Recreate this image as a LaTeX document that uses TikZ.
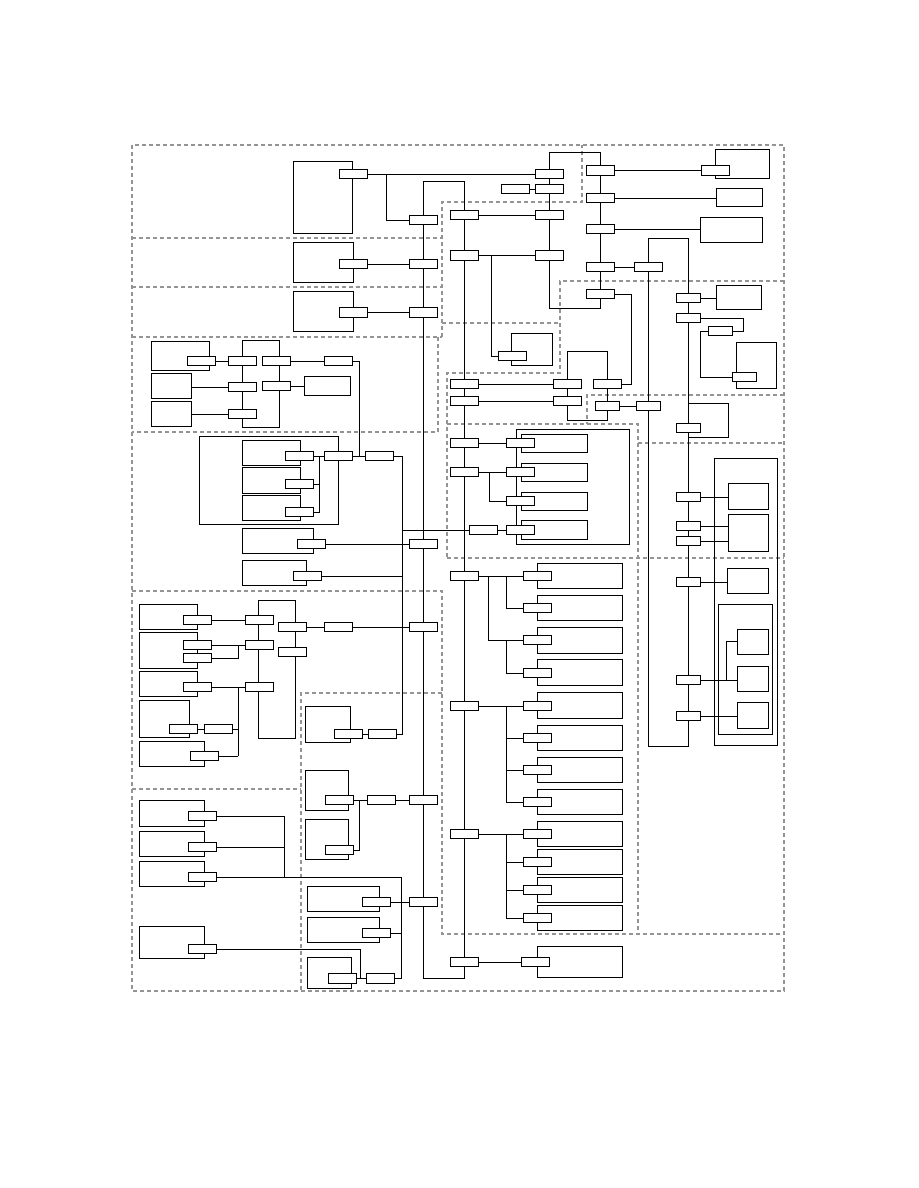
\documentclass[tikz,border=0pt]{standalone}
\usepackage{tikz}
\usetikzlibrary{fit}

\begin{document}
\begin{tikzpicture}[
    x=1pt, y=-1pt,
    line width=0.95pt,
    zone/.style={draw=black!42, line width=1.1pt, dash pattern=on 4pt off 3pt},
    box/.style={draw, inner sep=0pt, outer sep=0pt, fit={#1}},
    port/.style={draw, fill=white, inner sep=0pt, outer sep=0pt,
                 minimum width=28pt, minimum height=9.5pt},
    sport/.style={port, minimum width=24pt}
]
\useasboundingbox (0,0) rectangle (918,1188);

\draw[zone] (132,145) rectangle (784,991);
\draw[zone] (132,238) -- (442,238);
\draw[zone] (132,287) -- (442,287);
\draw[zone] (132,337) -- (442,337);
\draw[zone] (438,337) -- (438,432) -- (132,432);
\draw[zone] (442,337) -- (442,202) -- (582,202) -- (582,145);
\draw[zone] (442,323) -- (560,323);
\draw[zone] (784,281) -- (560,281) -- (560,373) -- (447,373) -- (447,558);
\draw[zone] (784,395) -- (587,395) -- (587,424);
\draw[zone] (447,424) -- (638,424) -- (638,934);
\draw[zone] (638,443) -- (784,443);
\draw[zone] (447,558) -- (784,558);
\draw[zone] (132,591) -- (442,591) -- (442,934) -- (784,934);
\draw[zone] (442,693) -- (301,693) -- (301,991);
\draw[zone] (132,789) -- (301,789);

\node[box={(293,161) (352,233)}] (t1) {};
\node[box={(293,242) (353,282)}] (t2) {};
\node[box={(293,291) (353,331)}] (t3) {};
\node[box={(511,333) (552,365)}] (m1) {};
\node[box={(715,149) (769,178)}] (r1) {};
\node[box={(716,188) (762,206)}] (r2) {};
\node[box={(700,217) (762,242)}] (r3) {};
\node[box={(716,285) (761,309)}] (r4) {};
\node[box={(736,342) (776,388)}] (r5) {};
\node[box={(688,403) (728,437)}] (r6) {};
\node[box={(714,458) (777,745)}] (c2) {};
\node[box={(728,483) (768,509)}] (r7) {};
\node[box={(728,514) (768,551)}] (r8) {};
\node[box={(727,568) (768,593)}] (r9) {};
\node[box={(718,604) (772,734)}] (c3) {};
\node[box={(737,629) (768,654)}] (r10) {};
\node[box={(737,666) (768,691)}] (r11) {};
\node[box={(737,702) (768,728)}] (r12) {};
\node[box={(516,429) (629,544)}] (c1) {};
\node[box={(521,434) (587,452)}] (n1) {};
\node[box={(521,463) (587,481)}] (n2) {};
\node[box={(521,492) (587,510)}] (n3) {};
\node[box={(521,520) (587,539)}] (n4) {};
\node[box={(537,563) (622,588)}] (b1) {};
\node[box={(537,595) (622,620)}] (b2) {};
\node[box={(537,627) (622,653)}] (b3) {};
\node[box={(537,659) (622,685)}] (b4) {};
\node[box={(537,692) (622,718)}] (b5) {};
\node[box={(537,725) (622,750)}] (b6) {};
\node[box={(537,757) (622,782)}] (b7) {};
\node[box={(537,789) (622,814)}] (b8) {};
\node[box={(537,821) (622,846)}] (b9) {};
\node[box={(537,849) (622,874)}] (b10) {};
\node[box={(537,877) (622,902)}] (b11) {};
\node[box={(537,905) (622,930)}] (b12) {};
\node[box={(537,946) (622,977)}] (b13) {};
\node[box={(151,341) (209,370)}] (l1) {};
\node[box={(242,340) (279,427)}] (la) {};
\node[box={(151,373) (191,398)}] (l5) {};
\node[box={(304,376) (350,395)}] (l8) {};
\node[box={(151,401) (191,426)}] (l9) {};
\node[box={(199,436) (338,524)}] (c4) {};
\node[box={(242,440) (300,465)}] (k1) {};
\node[box={(242,467) (300,493)}] (k2) {};
\node[box={(242,495) (300,520)}] (k3) {};
\node[box={(242,528) (313,553)}] (l12) {};
\node[box={(242,560) (306,585)}] (l14) {};
\node[box={(139,604) (197,629)}] (s1) {};
\node[box={(139,632) (197,668)}] (s2) {};
\node[box={(139,671) (197,696)}] (s3) {};
\node[box={(139,700) (189,737)}] (s4) {};
\node[box={(139,741) (204,766)}] (s5) {};
\node[box={(258,600) (295,738)}] (lb) {};
\node[box={(139,800) (204,826)}] (u1) {};
\node[box={(139,831) (204,856)}] (u2) {};
\node[box={(139,861) (204,886)}] (u3) {};
\node[box={(139,926) (204,958)}] (u4) {};
\node[box={(305,706) (350,742)}] (v1) {};
\node[box={(305,770) (348,810)}] (v2) {};
\node[box={(305,819) (348,859)}] (v3) {};
\node[box={(307,886) (379,911)}] (w1) {};
\node[box={(307,917) (379,942)}] (w2) {};
\node[box={(307,957) (351,988)}] (w3) {};

\node[port] (pt1) at (353,174) {};
\node[port] (pt2) at (353,264) {};
\node[port] (pt3) at (353,312.5) {};
\node[port] (pa) at (549,174) {};
\node[port] (pb) at (549,189) {};
\node[port] (pc) at (515,189) {};
\node[port] (pd) at (549,215) {};
\node[port] (pe) at (549,255.5) {};
\node[port] (a1) at (423,220) {};
\node[port] (a2) at (423,264) {};
\node[port] (a3) at (423,312.5) {};
\node[port] (a4) at (423,544) {};
\node[port] (a5) at (423,627) {};
\node[port] (a6) at (423,800) {};
\node[port] (a7) at (423,902) {};
\node[port] (pu) at (464,215) {};
\node[port] (pv) at (464,255.5) {};
\node[port] (ps) at (464,384) {};
\node[port] (pt) at (464,401) {};
\node[port] (pq) at (567,384) {};
\node[port] (pr) at (567,401) {};
\node[port] (q1) at (464,443) {};
\node[port] (q2) at (464,472) {};
\node[port] (q5) at (464,576) {};
\node[port] (q6) at (464,706) {};
\node[port] (q7) at (464,834) {};
\node[port] (q8) at (464,962) {};
\node[port] (ph) at (600,170.5) {};
\node[port] (pi) at (600,198) {};
\node[port] (pj) at (600,229) {};
\node[port] (pk) at (600,267) {};
\node[port] (pg) at (600,294) {};
\node[port] (pl) at (648,267) {};
\node[port] (r1p) at (715,170.5) {};
\node[port] (pw) at (512,356) {};
\node[port] (pn) at (607,384) {};
\node[sport] (po) at (607,406) {};
\node[sport] (pm) at (648,406) {};
\node[sport] (e1) at (688,298) {};
\node[sport] (e2) at (688,318) {};
\node[sport] (e3) at (720,331) {};
\node[sport] (e4) at (744,377) {};
\node[sport] (e5) at (688,428) {};
\node[sport] (e6) at (688,497) {};
\node[sport] (e7) at (688,526) {};
\node[sport] (e8) at (688,541) {};
\node[sport] (e9) at (688,582) {};
\node[sport] (e10) at (688,680) {};
\node[sport] (e11) at (688,716) {};
\node[port] (q1b) at (520.5,443) {};
\node[port] (q2b) at (520.5,472) {};
\node[port] (q3b) at (520.5,501) {};
\node[port] (q4b) at (520.5,530) {};
\node[port] (q4a) at (483,530) {};
\node[port] (bp1) at (537,576) {};
\node[port] (bp2) at (537,608) {};
\node[port] (bp3) at (537,640) {};
\node[port] (bp4) at (537,673) {};
\node[port] (bp5) at (537,706) {};
\node[port] (bp6) at (537,738) {};
\node[port] (bp7) at (537,770) {};
\node[port] (bp8) at (537,802) {};
\node[port] (bp9) at (537,834) {};
\node[port] (bp10) at (537,862) {};
\node[port] (bp11) at (537,890) {};
\node[port] (bp12) at (537,918) {};
\node[port] (bp13) at (535,962) {};
\node[port] (l1p) at (201,361) {};
\node[port] (l2) at (242,361) {};
\node[port] (l3) at (276,361) {};
\node[port] (l4) at (338,361) {};
\node[port] (l6) at (242,387) {};
\node[port] (l7) at (276,386) {};
\node[port] (l10) at (242,414) {};
\node[port] (k1p) at (299,456) {};
\node[port] (k2p) at (299,484) {};
\node[port] (k3p) at (299,512) {};
\node[port] (c4p) at (338,456) {};
\node[port] (l11) at (379,456) {};
\node[port] (l12p) at (311,544) {};
\node[port] (l14p) at (307,576) {};
\node[port] (s1p) at (197,620) {};
\node[port] (lb1) at (259,620) {};
\node[port] (lb2) at (292,627) {};
\node[port] (lb3) at (338,627) {};
\node[port] (lb4) at (292,652) {};
\node[port] (s2p) at (197,645) {};
\node[port] (s2q) at (197,658) {};
\node[port] (lb5) at (259,645) {};
\node[port] (s3p) at (197,687) {};
\node[port] (lb6) at (259,687) {};
\node[port] (s4p) at (183,729) {};
\node[port] (s4q) at (218,729) {};
\node[port] (s5p) at (204,756) {};
\node[port] (u1p) at (202,816) {};
\node[port] (u2p) at (202,847) {};
\node[port] (u3p) at (202,877) {};
\node[port] (u4p) at (202,949) {};
\node[port] (v1p) at (348,734) {};
\node[port] (v1q) at (382,734) {};
\node[port] (v2p) at (339,800) {};
\node[port] (v2q) at (381,800) {};
\node[port] (v3p) at (339,850) {};
\node[port] (w1p) at (376,902) {};
\node[port] (w2p) at (376,933) {};
\node[port] (w3p) at (342,978.5) {};
\node[port] (w3q) at (380,978.5) {};

\coordinate (j1) at (386,174);
\coordinate (j2) at (491,255.5);
\coordinate (j3) at (726,680);
\coordinate (j4) at (489,472);
\coordinate (j5) at (488,576);
\coordinate (j6) at (506,576);
\coordinate (j7) at (506,640);
\coordinate (j8) at (506,706);
\coordinate (j9) at (506,834);
\coordinate (j10) at (319,456);
\coordinate (j11) at (359,800);

\draw (pt1) -- (pa);
\draw (j1) |- (a1);
\draw (a1) -- (423,181) -- (464,181) -- (pu);
\draw (a1) -- (a2) -- (a3) -- (a4) -- (a5) -- (a6) -- (a7) -- (423,978) -- (464,978) -- (q8);
\draw (pt2) -- (a2);
\draw (pt3) -- (a3);
\draw (pu) -- (pv) -- (ps) -- (pt) -- (q1) -- (q2) -- (q5) -- (q6) -- (q7) -- (q8);
\draw (pu) -- (pd);
\draw (pv) -- (pe);
\draw (j2) |- (pw);
\draw (549,152) -- (600,152) -- (ph);
\draw (549,152) -- (pa) -- (pb) -- (pd) -- (pe) -- (549,308) -- (600,308) -- (pg);
\draw (pc) -- (pb);
\draw (ph) -- (pi) -- (pj) -- (pk) -- (pg);
\draw (ph) -- (r1p);
\draw (pi) -- (pi -| r2.west);
\draw (pj) -- (pj -| r3.west);
\draw (pk) -- (pl);
\draw (pl) -- (648,238) -- (688,238) -- (e1);
\draw (e1) -- (e2) -- (e5) -- (e6) -- (e7) -- (e8) -- (e9) -- (e10) -- (e11)
    -- (688,746) -- (648,746) -- (pm) -- (pl);
\draw (e1) -- (e1 -| r4.west);
\draw (e2) -- (743,318) |- (e3);
\draw (e3) -- (700,331) |- (e4);
\draw (e6) -- (e6 -| r7.west);
\draw (e7) -- (e7 -| r8.west);
\draw (e8) -- (e8 -| r8.west);
\draw (e9) -- (e9 -| r9.west);
\draw (e10) -- (e10 -| r11.west);
\draw (j3) |- (r10.west);
\draw (e11) -- (e11 -| r12.west);
\draw (pg) -| (631,384) -- (pn);
\draw (pn) -- (607,351) -- (567,351) -- (pq) -- (pr) -- (567,420) -- (607,420) -- (po) -- (pn);
\draw (ps) -- (pq);
\draw (pt) -- (pr);
\draw (po) -- (pm);
\draw (q1) -- (q1b);
\draw (q2) -- (q2b);
\draw (j4) |- (q3b);
\draw (402,530) -- (q4a) -- (q4b);
\draw (q5) -- (bp1);
\draw (j5) |- (bp3);
\draw (j6) |- (bp2);
\draw (j7) |- (bp4);
\draw (q6) -- (bp5);
\draw (j8) |- (bp8);
\draw (bp6) -- (bp6 -| j8);
\draw (bp7) -- (bp7 -| j8);
\draw (q7) -- (bp9);
\draw (j9) |- (bp12);
\draw (bp10) -- (bp10 -| j9);
\draw (bp11) -- (bp11 -| j9);
\draw (q8) -- (bp13);

\draw (l1p) -- (l2);
\draw (l3) -- (l4);
\draw (l4) -| (359,456);
\draw (l6 -| l5.east) -- (l6);
\draw (l7) -- (l7 -| l8.west);
\draw (l10 -| l9.east) -- (l10);
\draw (k1p) -- (c4p) -- (l11);
\draw (k3p) -| (j10);
\draw (k2p) -- (k2p -| j10);
\draw (l11) -| (402,734) -- (v1q);
\draw (l12p) -- (a4);
\draw (l14p) -- (402,576);
\draw (v1p) -- (v1q);
\draw (s1p) -- (lb1);
\draw (lb2) -- (lb3) -- (a5);
\draw (s2p) -- (lb5);
\draw (s2q) -| (238,645);
\draw (s3p) -- (lb6);
\draw (238,687) -- (238,756);
\draw (s4p) -- (s4q) -- (238,729);
\draw (s5p) -- (238,756);
\draw (u1p) -| (284,877);
\draw (u2p) -- (284,847);
\draw (u3p) -| (401,978.5) -- (w3q);
\draw (w1p) -- (a7);
\draw (w2p) -- (401,933);
\draw (w3p) -- (w3q);
\draw (u4p) -| (360,978.5);
\draw (v2p) -- (v2q) -- (a6);
\draw (j11) |- (v3p);
\end{tikzpicture}
\end{document}
